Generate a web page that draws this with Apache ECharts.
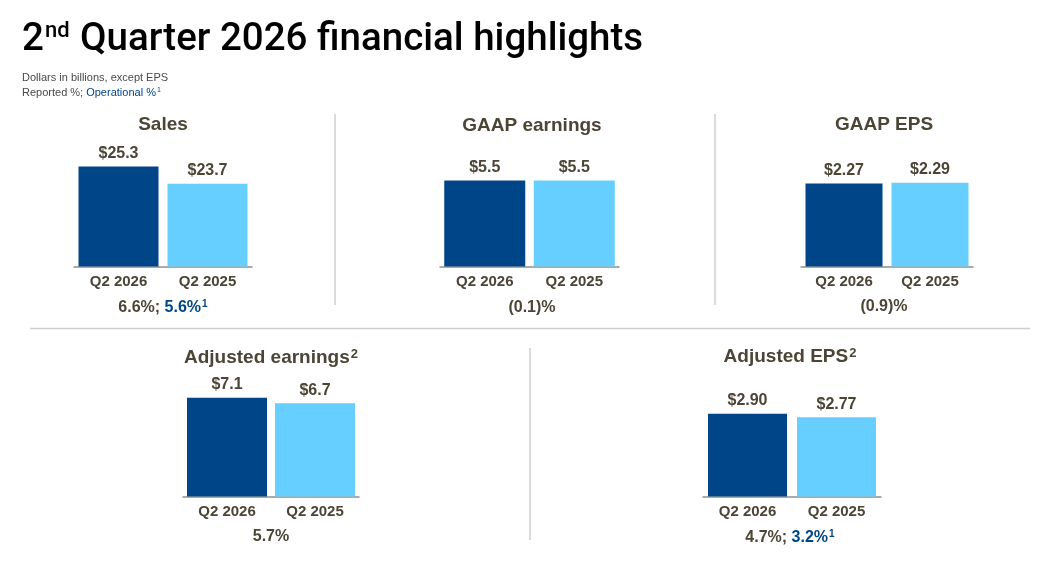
<!DOCTYPE html>
<html>
<head>
<meta charset="utf-8">
<script src="https://cdn.jsdelivr.net/npm/echarts@6/dist/echarts.min.js"></script>
<style>
html,body{margin:0;padding:0;background:#fff;}
#main{width:1057px;height:562px;}
</style>
</head>
<body>
<div id="main"></div>
<script>
// ---- data ----
const categories = ['Q2 2026', 'Q2 2025'];
const salesValues = [25.3, 23.7];
const gaapEarningsValues = [5.5, 5.5];
const gaapEpsValues = [2.27, 2.29];
const adjEarningsValues = [7.1, 6.7];
const adjEpsValues = [2.90, 2.77];
const panelTitles = ['Sales', 'GAAP earnings', 'GAAP EPS', 'Adjusted earnings', 'Adjusted EPS'];
const panelFootnotes = ['', '', '', '2', '2'];
const reportedChange = ['6.6%;', '(0.1)%', '(0.9)%', '5.7%', '4.7%;'];
const operationalChange = ['5.6%', '', '', '', '3.2%'];
const valueDecimals = [1, 1, 2, 1, 2];

// ---- layout ----
const DARK = '#004587';
const LIGHT = '#66CFFF';
const TXT = '#4B4536';
const FONT = '"Liberation Sans", Arial, sans-serif';

const panels = [
  {values: salesValues,        left: 74,  width: 178, top: 150.5, h: 116, min: 16, max: 26.79, bw: 80, cx: 163, ty: 125, py: 308},
  {values: gaapEarningsValues, left: 440, width: 179, top: 150.5, h: 116, min: 0,  max: 7.42,  bw: 81, cx: 532, ty: 126, py: 308},
  {values: gaapEpsValues,      left: 801, width: 172, top: 150.5, h: 116, min: 0,  max: 3.173, bw: 77, cx: 884, ty: 125, py: 307},
  {values: adjEarningsValues,  left: 183, width: 176, top: 380.5, h: 116, min: 0,  max: 8.344, bw: 80, cx: 271, ty: 358, py: 537},
  {values: adjEpsValues,       left: 703, width: 178, top: 380.5, h: 116, min: 0,  max: 4.06,  bw: 79, cx: 790, ty: 357, py: 538}
];

const grids = [], xAxes = [], yAxes = [], series = [], graphics = [];

panels.forEach((p, i) => {
  grids.push({left: p.left, width: p.width, top: p.top, height: p.h});
  xAxes.push({
    type: 'category', gridIndex: i, data: categories,
    axisLine: {show: true, lineStyle: {color: '#8f8f8f', width: 1.5}},
    axisTick: {show: false},
    axisLabel: {color: TXT, fontFamily: FONT, fontWeight: 'bold', fontSize: 15, margin: 8}
  });
  yAxes.push({
    type: 'value', gridIndex: i, min: p.min, max: p.max, show: false,
    splitLine: {show: false}
  });
  series.push({
    type: 'bar', xAxisIndex: i, yAxisIndex: i, barWidth: p.bw,
    data: p.values.map((v, j) => ({value: v, itemStyle: {color: j === 0 ? DARK : LIGHT}})),
    label: {
      show: true, position: 'top', distance: 5,
      color: TXT, fontFamily: FONT, fontWeight: 'bold', fontSize: 16,
      formatter: (d) => '$' + d.value.toFixed(valueDecimals[i])
    },
    silent: true, animation: false
  });
  // panel title
  let tText = '{t|' + panelTitles[i] + '}' + (panelFootnotes[i] ? '{s|' + panelFootnotes[i] + '}' : '');
  graphics.push({
    type: 'text', x: p.cx, y: p.ty,
    style: {
      text: tText, align: 'center', verticalAlign: 'middle',
      rich: {
        t: {fontFamily: FONT, fontWeight: 'bold', fontSize: 19, fill: TXT, lineHeight: 24},
        s: {fontFamily: FONT, fontWeight: 'bold', fontSize: 13, fill: TXT, lineHeight: 24, padding: [0, 0, 8, 1]}
      }
    }
  });
  // change line
  let cText = '{r|' + reportedChange[i] + '}' + (operationalChange[i] ? '{r| }{o|' + operationalChange[i] + '}{s|1}' : '');
  graphics.push({
    type: 'text', x: p.cx, y: p.py,
    style: {
      text: cText, align: 'center', verticalAlign: 'middle',
      rich: {
        r: {fontFamily: FONT, fontWeight: 'bold', fontSize: 16, fill: TXT, lineHeight: 20},
        o: {fontFamily: FONT, fontWeight: 'bold', fontSize: 16, fill: DARK, lineHeight: 20},
        s: {fontFamily: FONT, fontWeight: 'bold', fontSize: 10, fill: DARK, lineHeight: 20, padding: [0, 0, 8, 1]}
      }
    }
  });
});

// separators
const sep = (x1, y1, x2, y2) => ({type: 'line', shape: {x1, y1, x2, y2}, style: {stroke: '#cfcfcf', lineWidth: 1.5}, silent: true});
graphics.push(sep(335, 114, 335, 305));
graphics.push(sep(715, 114, 715, 305));
graphics.push(sep(30, 328.5, 1030, 328.5));
graphics.push(sep(530, 348, 530, 540));

// main title & subtitles
graphics.push({
  type: 'text', x: 22, y: 40,
  style: {
    text: '{a|2}{b|nd}{a| Quarter 2026 financial highlights}',
    verticalAlign: 'middle', align: 'left',
    rich: {
      a: {fontFamily: '"Roboto", "Liberation Sans", sans-serif', fontWeight: 500, fontSize: 38.5, fill: '#000', lineHeight: 46},
      b: {fontFamily: '"Roboto", "Liberation Sans", sans-serif', fontWeight: 500, fontSize: 22, fill: '#000', lineHeight: 46, padding: [0, 1, 18, 1]}
    }
  }
});
graphics.push({
  type: 'text', x: 22, y: 78,
  style: {text: 'Dollars in billions, except EPS', verticalAlign: 'middle', fontFamily: FONT, fontSize: 11, fill: '#4a4a4a'}
});
graphics.push({
  type: 'text', x: 22, y: 93,
  style: {
    text: '{g|Reported %; }{o|Operational %}{s|1}', verticalAlign: 'middle',
    rich: {
      g: {fontFamily: FONT, fontSize: 11, fill: '#4a4a4a', lineHeight: 14},
      o: {fontFamily: FONT, fontSize: 11, fill: DARK, lineHeight: 14},
      s: {fontFamily: FONT, fontSize: 7, fill: DARK, lineHeight: 14, padding: [0, 0, 5, 1]}
    }
  }
});

const chart = echarts.init(document.getElementById('main'), null, {renderer: 'canvas'});
chart.setOption({
  animation: false,
  backgroundColor: '#fff',
  grid: grids, xAxis: xAxes, yAxis: yAxes, series: series,
  graphic: graphics
});
</script>
</body>
</html>
